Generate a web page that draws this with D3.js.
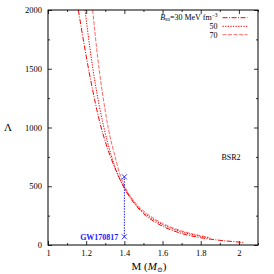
<!DOCTYPE html>
<html><head><meta charset="utf-8">
<script src="https://cdn.jsdelivr.net/npm/d3@7"></script>
<style>body{margin:0;background:#fff}svg{display:block}text{font-family:"Liberation Serif","DejaVu Serif",serif}</style>
</head><body><svg id="c" width="274" height="274"></svg>
<script>
const xTicks = [1, 1.2, 1.4, 1.6, 1.8, 2];
const xMinor = [1.1, 1.3, 1.5, 1.7, 1.9, 2.1];
const yTicks = [0, 500, 1000, 1500, 2000];
const yMinor = [250, 750, 1250, 1750];
const seriesLabels = ["30", "50", "70"];
const m30 = [1.159, 1.19, 1.224, 1.272, 1.3, 1.33, 1.368, 1.4, 1.45, 1.5, 1.55, 1.6, 1.7, 1.8, 1.9, 2.0, 2.03];
const lam30 = [2000, 1700, 1400, 1040, 880, 740, 590, 482, 358, 268, 206, 160, 98, 62, 40, 25, 21];
const m50 = [1.194, 1.22, 1.25, 1.29, 1.33, 1.368, 1.4, 1.45, 1.5, 1.55, 1.6, 1.7, 1.8, 1.85];
const lam50 = [2000, 1670, 1350, 1020, 770, 590, 490, 364, 278, 220, 174, 112, 73, 58];
const m70 = [1.234, 1.26, 1.28, 1.3, 1.315, 1.35, 1.377, 1.4, 1.45, 1.5, 1.55, 1.6, 1.7, 1.8, 1.84];
const lam70 = [2000, 1600, 1350, 1140, 1000, 760, 600, 505, 375, 290, 230, 184, 120, 79, 66];
const gwMass = [1.4, 1.4];
const gwLambda = [70, 580];

const svg = d3.select("#c");
const L = 48, R = 258, T = 10, B = 245;
const x = d3.scaleLinear().domain([1, 2.1]).range([L, R]);
const y = d3.scaleLinear().domain([0, 2000]).range([B, T]);

function axisStyle(g){ g.select(".domain").remove(); g.selectAll("line").attr("stroke","#000").attr("stroke-width",0.8); g.selectAll("text").attr("font-size","8.5px").attr("fill","#000").attr("font-family","Liberation Serif, serif"); }

svg.append("g").attr("transform",`translate(0,${B})`).call(d3.axisBottom(x).tickValues(xTicks).tickFormat(d3.format("")).tickSize(-4).tickPadding(5)).call(axisStyle);
svg.append("g").attr("transform",`translate(0,${B})`).call(d3.axisBottom(x).tickValues(xMinor).tickFormat("").tickSize(-2)).call(axisStyle);
svg.append("g").attr("transform",`translate(0,${T})`).call(d3.axisTop(x).tickValues(xTicks).tickFormat("").tickSize(-4)).call(axisStyle);
svg.append("g").attr("transform",`translate(0,${T})`).call(d3.axisTop(x).tickValues(xMinor).tickFormat("").tickSize(-2)).call(axisStyle);
svg.append("g").attr("transform",`translate(${L},0)`).call(d3.axisLeft(y).tickValues(yTicks).tickFormat(d3.format("")).tickSize(-4).tickPadding(6)).call(axisStyle);
svg.append("g").attr("transform",`translate(${L},0)`).call(d3.axisLeft(y).tickValues(yMinor).tickFormat("").tickSize(-2)).call(axisStyle);
svg.append("g").attr("transform",`translate(${R},0)`).call(d3.axisRight(y).tickValues(yTicks).tickFormat("").tickSize(-4)).call(axisStyle);
svg.append("g").attr("transform",`translate(${R},0)`).call(d3.axisRight(y).tickValues(yMinor).tickFormat("").tickSize(-2)).call(axisStyle);

svg.append("defs").append("clipPath").attr("id","clip").append("rect").attr("x",L).attr("y",T).attr("width",R-L).attr("height",B-T);

const line = d3.line().x(d=>x(d[0])).y(d=>y(d[1])).curve(d3.curveMonotoneX);
const series = [
  {m:m30, l:lam30, dash:"5,1.5,1,1.5", op:1},
  {m:m50, l:lam50, dash:"1.3,1.3", op:1},
  {m:m70, l:lam70, dash:"4,1.5", op:0.6}
];
const gc = svg.append("g").attr("clip-path","url(#clip)");
series.forEach(s=>{
  gc.append("path").datum(s.m.map((v,i)=>[v,s.l[i]])).attr("d",line)
    .attr("fill","none").attr("stroke","#ff0000").attr("stroke-opacity",s.op).attr("stroke-width",1).attr("stroke-dasharray",s.dash);
});

// GW170817
const blue = "#1a1aff";
svg.append("line").attr("x1",x(gwMass[0])).attr("x2",x(gwMass[1])).attr("y1",y(gwLambda[0])).attr("y2",y(gwLambda[1]))
  .attr("stroke",blue).attr("stroke-width",1).attr("stroke-dasharray","1.5,1.2");
gwLambda.forEach((v,i)=>{
  const cx = x(gwMass[i]), cy = y(v), s=2.5;
  svg.append("path").attr("d",`M${cx-s},${cy-s}L${cx+s},${cy+s}M${cx-s},${cy+s}L${cx+s},${cy-s}`).attr("stroke",blue).attr("stroke-width",0.9);
});
svg.append("text").attr("x",x(1.4)-6).attr("y",y(gwLambda[0])+3).attr("text-anchor","end").attr("font-size","8px").attr("font-weight","bold").attr("fill",blue).text("GW170817");

// BSR2
svg.append("text").attr("x",240.5).attr("y",160).attr("text-anchor","end").attr("font-size","8px").attr("fill","#000").text("BSR2");

// legend
const legY = [17.7, 26.3, 34.7];
const t0 = svg.append("text").attr("x",217.5).attr("y",legY[0]+2.5).attr("text-anchor","end").attr("font-size","8px").attr("fill","#000");
t0.append("tspan").attr("font-style","italic").text("B");
t0.append("tspan").attr("font-style","italic").attr("font-size","5.5px").attr("dy",1).text("su");
t0.append("tspan").attr("dy",-1).text("=" + seriesLabels[0] + " MeV fm");
t0.append("tspan").attr("font-size","5.5px").attr("dy",-3).text("\u22123");
for (let i=1;i<3;i++){
  svg.append("text").attr("x",217.5).attr("y",legY[i]+3).attr("text-anchor","end").attr("font-size","8px").attr("fill","#000").text(seriesLabels[i]);
}
series.forEach((s,i)=>{
  svg.append("line").attr("x1",222.5).attr("x2",247.5).attr("y1",legY[i]).attr("y2",legY[i])
    .attr("stroke","#ff0000").attr("stroke-opacity",s.op).attr("stroke-width",1).attr("stroke-dasharray",s.dash);
});

// frame
svg.append("rect").attr("x",L).attr("y",T).attr("width",R-L).attr("height",B-T).attr("fill","none").attr("stroke","#000").attr("stroke-width",1);

// axis titles
svg.append("text").attr("x",8).attr("y",131).attr("text-anchor","middle").attr("font-size","11px").attr("fill","#000").text("\u039B");
const xt = svg.append("text").attr("x",149).attr("y",270).attr("text-anchor","middle").attr("font-size","11px").attr("fill","#000");
xt.append("tspan").text("M (");
xt.append("tspan").attr("font-style","italic").text("M");
xt.append("tspan").attr("font-size","7px").attr("dy",2).text("\u2299");
xt.append("tspan").attr("dy",-2).text(")");
</script></body></html>
